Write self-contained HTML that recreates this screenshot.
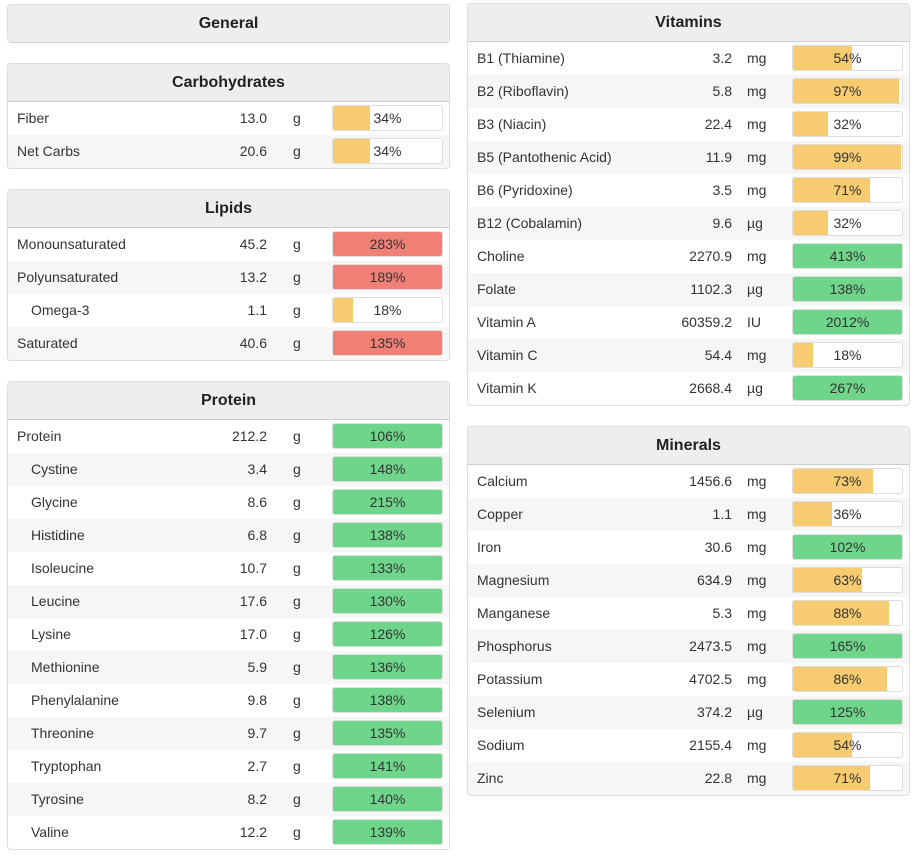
<!DOCTYPE html>
<html><head><meta charset="utf-8">
<style>
body{margin:0;background:#fff;font-family:"Liberation Sans",sans-serif;color:#333;width:916px;height:860px;overflow:hidden;position:relative}
.panel{position:absolute;width:441px;border:1px solid #ddd;border-radius:4px;background:#fff;overflow:hidden}
.hdr{height:37px;background:#eee;border-bottom:1px solid #ccc;text-align:center;font-weight:bold;font-size:16px;line-height:38px;color:#222}
.row{height:33px;position:relative;font-size:14px}
.row:nth-child(even){background:#f6f6f6}
.nm{position:absolute;left:9px;top:8px}
.nm.ind{left:23px}
.val{position:absolute;top:8px;text-align:right;width:80px}
.unit{position:absolute;top:8px}
.bar{position:absolute;top:3px;width:109px;height:24px;border:1px solid #ddd;border-radius:3px;background:#fff;overflow:hidden}
.fill{position:absolute;left:0;top:0;bottom:0}
.pct{position:absolute;left:0;right:0;top:4px;text-align:center;font-size:14px}
</style></head><body>
<div class="panel" style="left:7px;top:4px;height:38px;border-bottom:none"><div class="hdr" style="border-bottom:2px solid #ccc">General</div></div>
<div id="root"></div>
<script>
const carbNames=["Fiber","Net Carbs"];const carbVals=["13.0","20.6"];const carbUnits=["g","g"];const carbPct=[34,34];const carbColor=["y","y"];
const lipNames=["Monounsaturated","Polyunsaturated","Omega-3","Saturated"];const lipVals=["45.2","13.2","1.1","40.6"];const lipUnits=["g","g","g","g"];const lipPct=[283,189,18,135];const lipColor=["r","r","y","r"];const lipInd=[0,0,1,0];
const proNames=["Protein","Cystine","Glycine","Histidine","Isoleucine","Leucine","Lysine","Methionine","Phenylalanine","Threonine","Tryptophan","Tyrosine","Valine"];
const proVals=["212.2","3.4","8.6","6.8","10.7","17.6","17.0","5.9","9.8","9.7","2.7","8.2","12.2"];
const proPct=[106,148,215,138,133,130,126,136,138,135,141,140,139];
const vitNames=["B1 (Thiamine)","B2 (Riboflavin)","B3 (Niacin)","B5 (Pantothenic Acid)","B6 (Pyridoxine)","B12 (Cobalamin)","Choline","Folate","Vitamin A","Vitamin C","Vitamin K"];
const vitVals=["3.2","5.8","22.4","11.9","3.5","9.6","2270.9","1102.3","60359.2","54.4","2668.4"];
const vitUnits=["mg","mg","mg","mg","mg","µg","mg","µg","IU","mg","µg"];
const vitPct=[54,97,32,99,71,32,413,138,2012,18,267];
const minNames=["Calcium","Copper","Iron","Magnesium","Manganese","Phosphorus","Potassium","Selenium","Sodium","Zinc"];
const minVals=["1456.6","1.1","30.6","634.9","5.3","2473.5","4702.5","374.2","2155.4","22.8"];
const minUnits=["mg","mg","mg","mg","mg","mg","mg","µg","mg","mg"];
const minPct=[73,36,102,63,88,165,86,125,54,71];
const COL={y:"#f7cb6f",r:"#f07f76",g:"#6fd58b"};
function panel(name,title,left,top,names,vals,units,pct,colors,ind,valRight,unitX){
  const p=document.createElement('div');p.className='panel';p.style.left=left+'px';p.style.top=top+'px';
  
  
  const h=document.createElement('div');h.className='hdr';h.textContent=title;
  
  
  p.appendChild(h);
  const body=document.createElement('div');p.appendChild(body);
  names.forEach((n,i)=>{
    const r=document.createElement('div');r.className='row';
    
    
    const a=document.createElement('span');a.className='nm'+(ind&&ind[i]?' ind':'');a.textContent=n;
    
    
    const v=document.createElement('span');v.className='val';v.style.left=(valRight-80)+'px';v.textContent=vals[i];
    
    
    const u=document.createElement('span');u.className='unit';u.style.left=unitX+'px';u.textContent=units[i];
    
    
    const b=document.createElement('div');b.className='bar';b.style.left='324px';
    
    
    const f=document.createElement('div');f.className='fill';f.style.width=Math.min(pct[i],100)+'%';f.style.background=COL[colors[i]];
    
    
    const t=document.createElement('div');t.className='pct';t.textContent=pct[i]+'%';
    
    
    b.appendChild(f);b.appendChild(t);
    r.appendChild(a);r.appendChild(v);r.appendChild(u);r.appendChild(b);body.appendChild(r);
  });
  document.getElementById('root').appendChild(p);
}
const cls=(arr,hi)=>arr.map(x=>x>=100?hi:'y');
panel('carbohydrates','Carbohydrates',7,63,carbNames,carbVals,carbUnits,carbPct,carbColor,null,259,285);
panel('lipids','Lipids',7,189,lipNames,lipVals,lipUnits,lipPct,lipColor,lipInd,259,285);
panel('protein','Protein',7,381,proNames,proVals,proNames.map(()=> 'g'),proPct,cls(proPct,'g'),proNames.map((n,i)=>i?1:0),259,285);
panel('vitamins','Vitamins',467,3,vitNames,vitVals,vitUnits,vitPct,cls(vitPct,'g'),null,264,279);
panel('minerals','Minerals',467,426,minNames,minVals,minUnits,minPct,cls(minPct,'g'),null,264,279);
</script>
</body></html>
